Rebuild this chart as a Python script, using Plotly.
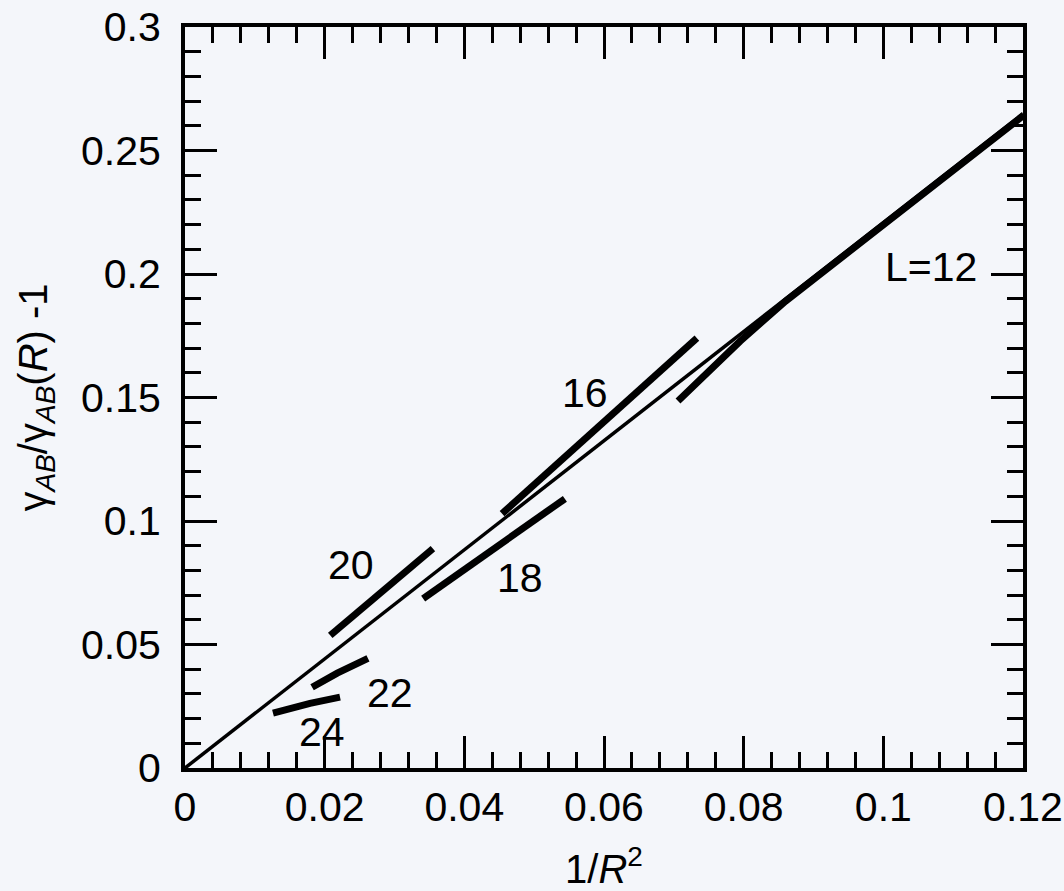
import plotly.graph_objects as go

# Reference straight line through the origin
fit_x = [0.0, 0.12]
fit_y = [0.0, 0.265]

# Data segments for each system size L
L24_x = [0.0126, 0.0179, 0.0222]
L24_y = [0.0222, 0.0262, 0.0287]
L22_x = [0.0182, 0.0218, 0.0262]
L22_y = [0.0327, 0.0384, 0.0444]
L20_x = [0.0208, 0.0355]
L20_y = [0.0537, 0.0888]
L18_x = [0.0341, 0.0544]
L18_y = [0.0686, 0.1090]
L16_x = [0.0454, 0.0733]
L16_y = [0.1030, 0.1740]
L12_x = [0.0706, 0.0795, 0.0860, 0.12]
L12_y = [0.1486, 0.1728, 0.1890, 0.264]

# Curve labels and where they sit
label_text = ["L=12", "16", "18", "20", "22", "24"]
label_x = [0.1068, 0.0573, 0.0480, 0.0238, 0.0294, 0.0196]
label_y = [0.2030, 0.1518, 0.0771, 0.0820, 0.0303, 0.0145]

x_tickvals = [0, 0.02, 0.04, 0.06, 0.08, 0.1, 0.12]
x_ticktext = ["0", "0.02", "0.04", "0.06", "0.08", "0.1", "0.12"]
y_tickvals = [0, 0.05, 0.1, 0.15, 0.2, 0.25, 0.3]
y_ticktext = ["0", "0.05", "0.1", "0.15", "0.2", "0.25", "0.3"]

FONT = "Liberation Sans, Arial, sans-serif"
BG = "#f4f6fa"

fig = go.Figure()

fig.add_trace(go.Scatter(x=fit_x, y=fit_y, mode="lines",
                         line=dict(color="black", width=3.5), showlegend=False))

for sx, sy in [(L24_x, L24_y), (L22_x, L22_y), (L20_x, L20_y),
               (L18_x, L18_y), (L16_x, L16_y), (L12_x, L12_y)]:
    fig.add_trace(go.Scatter(x=sx, y=sy, mode="lines",
                             line=dict(color="black", width=7),
                             showlegend=False))

for t, lx, ly in zip(label_text, label_x, label_y):
    fig.add_annotation(x=lx, y=ly, text=t, showarrow=False,
                       font=dict(family=FONT, size=41, color="black"),
                       xanchor="center", yanchor="middle")

axis_common = dict(
    showgrid=False, zeroline=False, automargin=False,
    showline=True, linecolor="black", linewidth=4,
    mirror="ticks", ticks="inside", ticklen=32, tickwidth=3, tickcolor="black",
    tickfont=dict(family=FONT, size=41, color="black"),
)

fig.update_xaxes(
    range=[0, 0.12], tickvals=x_tickvals, ticktext=x_ticktext,
    minor=dict(dtick=0.004, ticks="inside", ticklen=16, tickwidth=3, tickcolor="black"),
    ticklabelstandoff=0,
    title=dict(text="1/<i>R</i><sup>2</sup>", standoff=30,
               font=dict(family=FONT, size=40, color="black")),
    **axis_common,
)
fig.update_yaxes(
    range=[0, 0.3], tickvals=y_tickvals, ticktext=y_ticktext,
    minor=dict(dtick=0.01, ticks="inside", ticklen=16, tickwidth=3, tickcolor="black"),
    ticklabelstandoff=12,
    title=dict(text="γ<sub><i>AB</i></sub>/γ<sub><i>AB</i></sub>(<i>R</i>) -1", standoff=22,
               font=dict(family=FONT, size=40, color="black")),
    **axis_common,
)

fig.update_layout(
    width=1064, height=891,
    margin=dict(l=185, r=41, t=27, b=123),
    paper_bgcolor=BG, plot_bgcolor=BG,
)

fig.write_html("out.html")
